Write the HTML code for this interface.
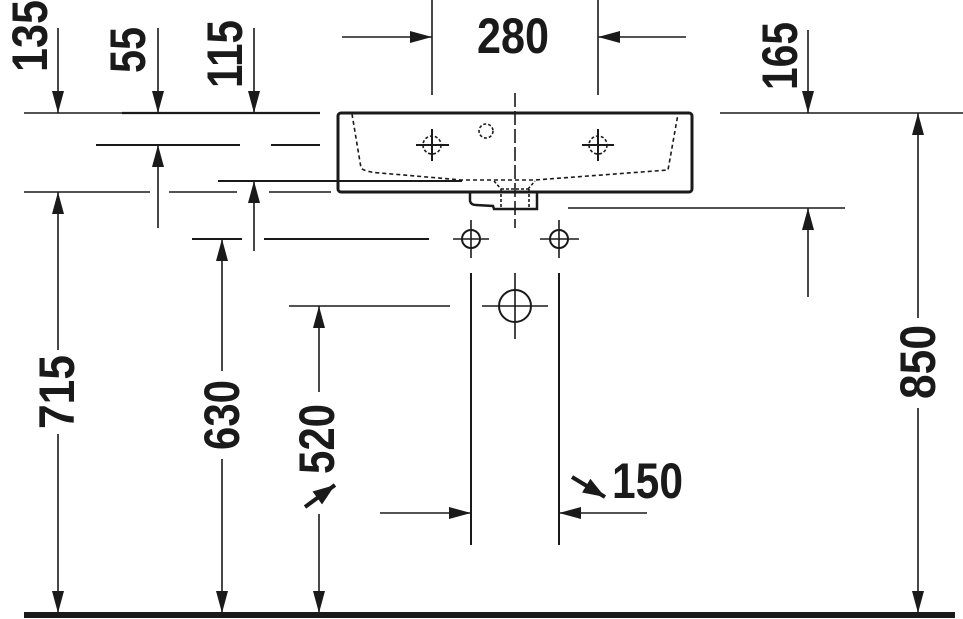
<!DOCTYPE html>
<html><head><meta charset="utf-8"><style>
html,body{margin:0;padding:0;background:#fff}
svg{display:block}
text{font-family:"Liberation Sans",sans-serif;font-weight:bold;font-size:50px;fill:#1a1a1a}
</style></head><body>
<svg width="963" height="619" viewBox="0 0 963 619" xmlns="http://www.w3.org/2000/svg">
<defs>
<marker id="a" viewBox="0 0 22 12" refX="22" refY="6" markerWidth="22" markerHeight="12" markerUnits="userSpaceOnUse" orient="auto"><path d="M0,0L22,6L0,12z" fill="#1a1a1a"/></marker>
<marker id="b" viewBox="0 0 22 16" refX="22" refY="8" markerWidth="22" markerHeight="16" markerUnits="userSpaceOnUse" orient="auto"><path d="M0,0L22,8L0,16z" fill="#1a1a1a"/></marker>
</defs>
<g stroke="#1a1a1a" stroke-width="1.6" fill="none">
<line x1="24" y1="113" x2="122" y2="113"/>
<line x1="122" y1="113" x2="320" y2="113" stroke-width="2.2"/>
<line x1="720" y1="113" x2="963" y2="113"/>
<line x1="96" y1="145" x2="240" y2="145" stroke-width="2"/>
<line x1="271" y1="145" x2="320" y2="145" stroke-width="2"/>
<line x1="218" y1="181" x2="462" y2="181" stroke-width="2"/>
<line x1="24" y1="192" x2="150" y2="192"/>
<line x1="169" y1="192" x2="237" y2="192"/>
<line x1="269" y1="192" x2="331" y2="192"/>
<line x1="192" y1="239" x2="242" y2="239" stroke-width="2"/>
<line x1="264" y1="239" x2="429" y2="239" stroke-width="2"/>
<line x1="568" y1="208" x2="845" y2="208"/>
<line x1="289" y1="306" x2="450" y2="306"/>
<line x1="432" y1="0" x2="432" y2="95"/>
<line x1="598" y1="0" x2="598" y2="95"/>
<line x1="342" y1="37" x2="432" y2="37" marker-end="url(#a)"/>
<line x1="686" y1="37" x2="598" y2="37" marker-end="url(#a)"/>
<line x1="58" y1="28" x2="58" y2="113" marker-end="url(#a)"/>
<line x1="158" y1="28" x2="158" y2="113" marker-end="url(#a)"/>
<line x1="254" y1="28" x2="254" y2="113" marker-end="url(#a)"/>
<line x1="808" y1="30" x2="808" y2="113" marker-end="url(#a)"/>
<line x1="158" y1="228" x2="158" y2="145" marker-end="url(#a)"/>
<line x1="254" y1="251" x2="254" y2="181" marker-end="url(#a)"/>
<line x1="808" y1="297" x2="808" y2="208" marker-end="url(#a)"/>
<line x1="58" y1="350" x2="58" y2="192" marker-end="url(#a)"/>
<line x1="58" y1="434" x2="58" y2="613" marker-end="url(#a)"/>
<line x1="222" y1="371" x2="222" y2="239" marker-end="url(#a)"/>
<line x1="222" y1="459" x2="222" y2="613" marker-end="url(#a)"/>
<line x1="319" y1="392" x2="319" y2="306" marker-end="url(#a)"/>
<line x1="319" y1="514" x2="319" y2="613" marker-end="url(#a)"/>
<line x1="918" y1="318" x2="918" y2="113" marker-end="url(#a)"/>
<line x1="918" y1="408" x2="918" y2="613" marker-end="url(#a)"/>
<line x1="471" y1="273" x2="471" y2="545" stroke-width="2"/>
<line x1="559" y1="273" x2="559" y2="545" stroke-width="2"/>
<line x1="380" y1="513" x2="471" y2="513" marker-end="url(#a)"/>
<line x1="647" y1="513" x2="559" y2="513" marker-end="url(#a)"/>
<line x1="305" y1="507" x2="335" y2="485" stroke-width="4" marker-end="url(#b)"/>
<line x1="572" y1="477" x2="605" y2="497" stroke-width="4" marker-end="url(#b)"/>
<rect x="338" y="113" width="354" height="79" rx="3" stroke-width="3"/>
<path d="M352,114 L361,168 Q365,172 380,173 L462,180 L535,180 L668,170 L678,114" stroke-dasharray="4,3"/>
<path d="M470,193 L470,201 Q471,205 476,205 L493,206 L494,209 L537,209 L537,193" stroke-width="2.5"/>
<path d="M494,181 L501,189 M528,189 L535,181 M501,189 L529,189 M501,189 L501,208 M529,189 L529,208" stroke-dasharray="3,2"/>
<line x1="515" y1="93" x2="515" y2="228" stroke-dasharray="14,4"/>
<circle cx="432" cy="145" r="9" stroke-dasharray="3,2"/>
<circle cx="598" cy="145" r="9" stroke-dasharray="3,2"/>
<circle cx="486" cy="131" r="7" stroke-dasharray="3,2"/>
<path d="M416,145H449M432,129V161M582,145H614M598,129V161" stroke-width="2"/>
<circle cx="471" cy="239" r="9" stroke-width="2"/>
<circle cx="559" cy="239" r="9" stroke-width="2"/>
<path d="M453,239H489M471,220V258M540,239H579M559,220V258"/>
<circle cx="515" cy="306" r="16" stroke-width="2"/>
<path d="M482,306H548M515,273V339"/>
</g>
<rect x="24" y="612" width="931" height="6" fill="#1a1a1a"/>
<g>
<text transform="translate(30,36) rotate(-90)" text-anchor="middle" dominant-baseline="central" textLength="72" lengthAdjust="spacingAndGlyphs">135</text>
<text transform="translate(128,50) rotate(-90)" text-anchor="middle" dominant-baseline="central" textLength="46" lengthAdjust="spacingAndGlyphs">55</text>
<text transform="translate(225,54) rotate(-90)" text-anchor="middle" dominant-baseline="central" textLength="68" lengthAdjust="spacingAndGlyphs">115</text>
<text transform="translate(780,56) rotate(-90)" text-anchor="middle" dominant-baseline="central" textLength="68" lengthAdjust="spacingAndGlyphs">165</text>
<text transform="translate(57,392) rotate(-90)" text-anchor="middle" dominant-baseline="central" textLength="74" lengthAdjust="spacingAndGlyphs">715</text>
<text transform="translate(222,415) rotate(-90)" text-anchor="middle" dominant-baseline="central" textLength="70" lengthAdjust="spacingAndGlyphs">630</text>
<text transform="translate(317,439) rotate(-90)" text-anchor="middle" dominant-baseline="central" textLength="70" lengthAdjust="spacingAndGlyphs">520</text>
<text transform="translate(918,362) rotate(-90)" text-anchor="middle" dominant-baseline="central" textLength="74" lengthAdjust="spacingAndGlyphs">850</text>
<text x="477" y="53" textLength="72" lengthAdjust="spacingAndGlyphs">280</text>
<text x="612" y="498" textLength="71" lengthAdjust="spacingAndGlyphs">150</text>
</g>
</svg>
</body></html>
